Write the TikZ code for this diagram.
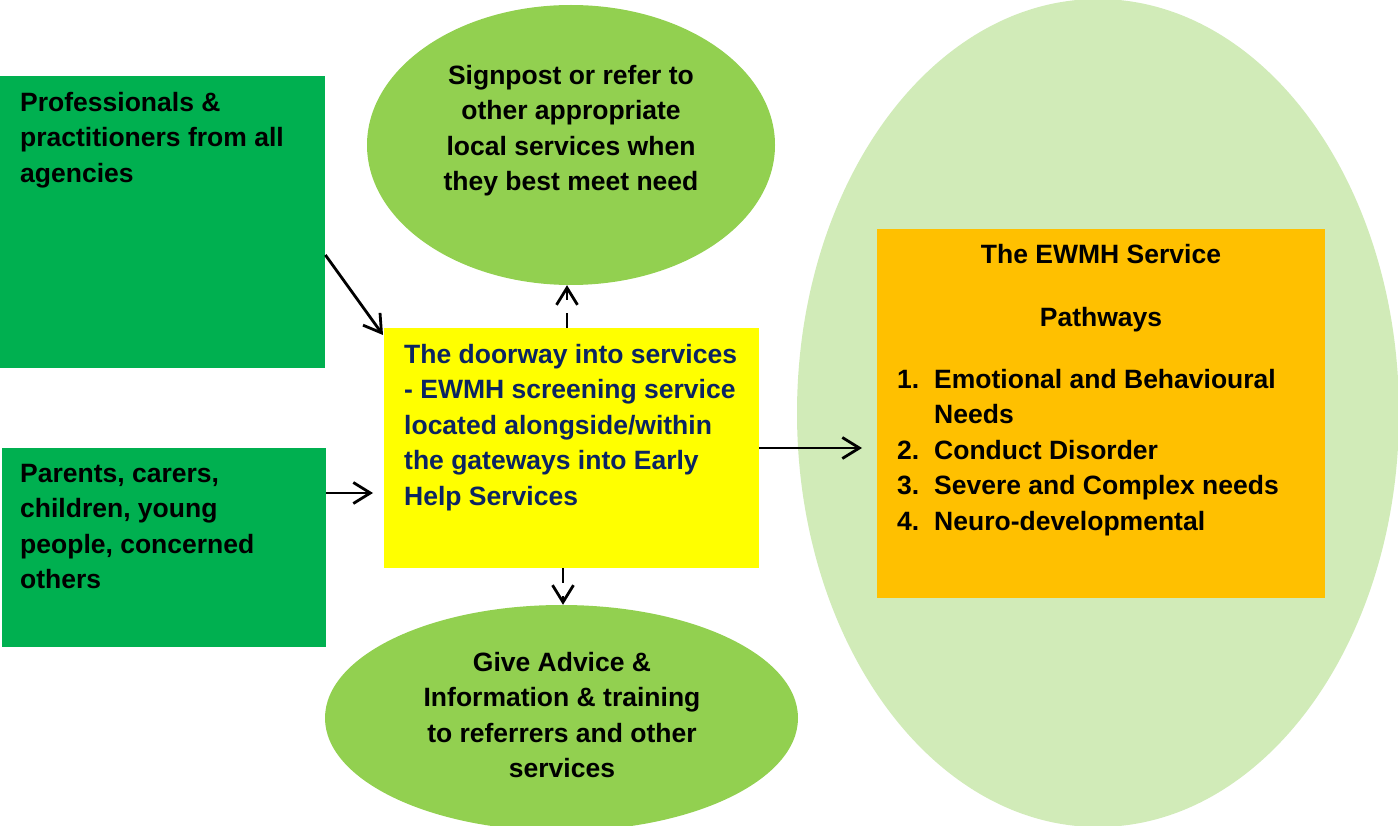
\documentclass[tikz,border=0pt]{standalone}
\usepackage{fontspec}
\setmainfont{Liberation Sans}
\usetikzlibrary{shapes.geometric,arrows.meta,calc}
\definecolor{boxgreen}{HTML}{00B050}
\definecolor{ellgreen}{HTML}{92D050}
\definecolor{palegreen}{HTML}{D1EBB8}
\definecolor{orangebox}{HTML}{FFC000}
\definecolor{navytext}{HTML}{0B2462}
\definecolor{pureyellow}{HTML}{FFFF00}
\begin{document}
\begin{tikzpicture}[x=1pt,y=-1pt,
  txt/.style={inner sep=0pt,font=\fontsize{26.5}{35.4}\selectfont\bfseries},
  greenbox/.style={rectangle,fill=boxgreen,inner sep=0pt,anchor=north west},
  oval/.style={ellipse,fill=ellgreen,inner sep=0pt},
  arr/.style={line width=2.8pt,-{Straight Barb[length=17pt,width=21pt,line width=2.8pt]}},
  dasharr/.style={arr,dash pattern=on 15pt off 13pt}]
\useasboundingbox (0,0) rectangle (1398,826);
% background light ellipse
\node[ellipse,fill=palegreen,inner sep=0pt,minimum width=602pt,minimum height=828pt] (big) at (1098,413) {};
% boxes
\node[greenbox,minimum width=325pt,minimum height=292pt] (pro) at (0,76) {};
\node[greenbox,minimum width=324pt,minimum height=199pt] (par) at (2,448) {};
\node[rectangle,fill=pureyellow,inner sep=0pt,anchor=north west,minimum width=375pt,minimum height=240pt] (door) at (384,328) {};
\node[rectangle,fill=orangebox,inner sep=0pt,anchor=north west,minimum width=448pt,minimum height=369pt] (ewmh) at (877,229) {};
% ellipses
\node[oval,minimum width=408pt,minimum height=280pt] (sign) at (571,145) {};
\node[oval,minimum width=473pt,minimum height=226pt] (adv) at (561.5,718) {};
% texts
\node[txt,anchor=north west,align=left] (protxt) at (20,92) {Professionals \&\\practitioners from all\\agencies};
\node[txt,anchor=north west,align=left] (partxt) at (20,464) {Parents, carers,\\children, young\\people, concerned\\others};
\node[txt,anchor=north,align=center] (signtxt) at (571,65) {Signpost or refer to\\other appropriate\\local services when\\they best meet need};
\node[txt,anchor=north,align=center] (advtxt) at (562,652) {Give Advice \&\\Information \& training\\to referrers and other\\services};
\node[txt,anchor=north west,align=left,text=navytext] (doortxt) at (404,344) {The doorway into services\\- EWMH screening service\\located alongside/within\\the gateways into Early\\Help Services};
\node[txt,anchor=north] (ewmhtitle) at (1101,244) {The EWMH Service};
\node[txt,anchor=north] (pathtitle) at (1101,307) {Pathways};
\node[txt,anchor=north west,align=left] (pathlist) at (897,369) {\makebox[37pt][l]{1.}Emotional and Behavioural\\\hspace*{37pt}Needs\\\makebox[37pt][l]{2.}Conduct Disorder\\\makebox[37pt][l]{3.}Severe and Complex needs\\\makebox[37pt][l]{4.}Neuro-developmental};
% connectors
\draw[arr] (pro.east |- 0,255) -- ($(door.north west)+(-1,7)$);
\draw[arr,shorten >=11pt] (par.east |- 0,493) -- (door.west |- 0,493);
\draw[arr,shorten >=15pt] (door.east |- 0,448) -- (ewmh.west |- 0,448);
\draw[dasharr] (door.north -| 567,0) -- (sign.south -| 567,0);
\draw[dasharr] (door.south -| 563,0) -- (adv.north -| 563,0);
\end{tikzpicture}
\end{document}
